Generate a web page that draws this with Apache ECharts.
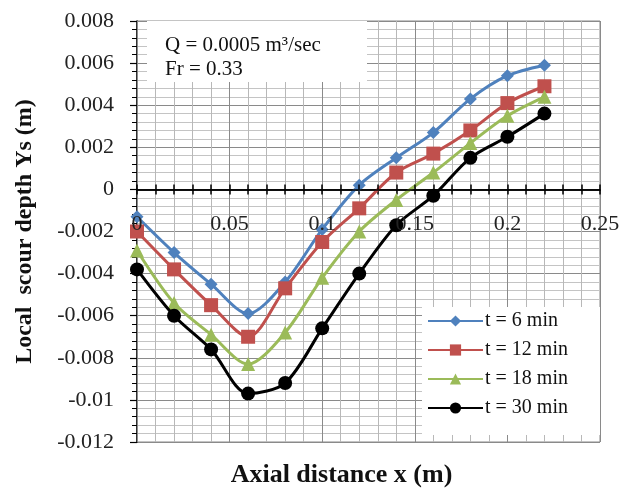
<!DOCTYPE html>
<html>
<head>
<meta charset="utf-8">
<script src="https://cdn.jsdelivr.net/npm/echarts@6/dist/echarts.min.js"></script>
<style>
html,body{margin:0;padding:0;background:#fff;}
#chart{width:633px;height:492px;}
</style>
</head>
<body>
<div id="chart"></div>
<script>
// Axial distance x (m)
const xValues = [0, 0.02, 0.04, 0.06, 0.08, 0.10, 0.12, 0.14, 0.16, 0.18, 0.20, 0.22];
// Local scour depth Ys (m)
const t6  = [-0.0013, -0.0030, -0.0045, -0.0059, -0.0044, -0.0019, 0.0002, 0.0015, 0.0027, 0.0043, 0.0054, 0.0059];
const t12 = [-0.0020, -0.0038, -0.0055, -0.0070, -0.0047, -0.0025, -0.0009, 0.0008, 0.0017, 0.0028, 0.0041, 0.0049];
const t18 = [-0.0029, -0.0054, -0.0069, -0.0083, -0.0068, -0.0042, -0.0020, -0.0005, 0.0008, 0.0022, 0.0035, 0.0044];
const t30 = [-0.0038, -0.0060, -0.0076, -0.0097, -0.0092, -0.0066, -0.0040, -0.0017, -0.0003, 0.0015, 0.0025, 0.0036];
const seriesNames = ['t = 6 min', 't = 12 min', 't = 18 min', 't = 30 min'];
const xTicks = [0, 0.05, 0.1, 0.15, 0.2, 0.25];
const yTicks = [-0.012, -0.01, -0.008, -0.006, -0.004, -0.002, 0, 0.002, 0.004, 0.006, 0.008];

const colors = ['#4F81BD', '#C0504D', '#9BBB59', '#000000'];
const symbols = ['diamond', 'rect', 'triangle', 'circle'];
const symbolSizes = [13, 14, 14, 14];
const allData = [t6, t12, t18, t30];

const serif = '"Liberation Serif", "Times New Roman", serif';

const chart = echarts.init(document.getElementById('chart'), null, {renderer: 'canvas'});

const series = allData.map((d, i) => ({
  name: seriesNames[i],
  type: 'line',
  xAxisIndex: 0,
  yAxisIndex: 0,
  data: d.map((v, j) => [xValues[j], v]),
  smooth: 0.3,
  symbol: symbols[i],
  symbolSize: symbolSizes[i],
  lineStyle: {color: colors[i], width: 3},
  itemStyle: {color: colors[i]},
  z: 5 + i
}));

const W = 633, H = 492;
const gridRect = {left: 137, right: 33, top: 21, bottom: 50, containLabel: false, outerBoundsMode: 'none'};
const yMin = yTicks[0], yMax = yTicks[yTicks.length - 1];
const gridH = H - gridRect.top - gridRect.bottom;
// shift the x axis up so that it sits on y = 0 (axis crossing like the original)
const zeroOffset = -gridH * (0 - yMin) / (yMax - yMin);

const xRange = {type: 'value', min: xTicks[0], max: xTicks[xTicks.length - 1], interval: 0.05};
const yRange = {type: 'value', min: yMin, max: yMax, interval: 0.002};
const tickLine = {color: '#000', width: 1.5};

chart.setOption({
  animation: false,
  backgroundColor: '#fff',
  grid: [
    Object.assign({show: true, borderColor: '#888', borderWidth: 1, backgroundColor: 'transparent'}, gridRect),
    Object.assign({show: false}, gridRect)
  ],
  xAxis: [
    Object.assign({}, xRange, {
      gridIndex: 0,
      position: 'bottom',
      offset: zeroOffset,
      axisLine: {onZero: false, lineStyle: tickLine},
      axisTick: {show: true, inside: false, length: 5, lineStyle: tickLine},
      minorTick: {show: true, splitNumber: 5, length: 5, lineStyle: tickLine},
      axisLabel: {show: false},
      splitLine: {show: true, lineStyle: {color: '#8a8a8a', width: 1}},
      minorSplitLine: {show: true, lineStyle: {color: '#b8b8b8', width: 1}},
      z: 4
    }),
    Object.assign({}, xRange, {
      gridIndex: 1,
      position: 'bottom',
      offset: zeroOffset,
      axisLine: {onZero: false, lineStyle: tickLine},
      axisTick: {show: true, inside: true, length: 5, lineStyle: tickLine},
      minorTick: {show: true, splitNumber: 5, length: 5, lineStyle: tickLine},
      axisLabel: {
        margin: 24, color: '#222', fontFamily: serif, fontSize: 22,
        showMinLabel: true, showMaxLabel: true, hideOverlap: false,
        formatter: v => String(parseFloat(v.toFixed(2)))
      },
      splitLine: {show: false},
      minorSplitLine: {show: false},
      name: 'Axial distance x (m)',
      nameLocation: 'middle',
      nameGap: 273,
      nameTextStyle: {fontFamily: serif, fontSize: 26, fontWeight: 'bold', color: '#111', padding: [0, 54, 0, 0]},
      z: 20
    })
  ],
  yAxis: [
    Object.assign({}, yRange, {
      gridIndex: 0,
      axisLine: {show: true, onZero: false, lineStyle: tickLine},
      axisTick: {show: true, inside: false, length: 7, lineStyle: {color: '#000', width: 1.2}},
      minorTick: {show: true, splitNumber: 5, length: 5, lineStyle: {color: '#000', width: 1}},
      axisLabel: {
        margin: 23, color: '#222', fontFamily: serif, fontSize: 22,
        showMinLabel: true, showMaxLabel: true, hideOverlap: false,
        formatter: v => String(parseFloat(v.toFixed(3)))
      },
      splitLine: {show: true, lineStyle: {color: '#8a8a8a', width: 1}},
      minorSplitLine: {show: true, lineStyle: {color: '#c4c4c4', width: 1}},
      name: 'Local  scour depth Ys (m)',
      nameLocation: 'middle',
      nameGap: 100,
      nameTextStyle: {fontFamily: serif, fontSize: 24, fontWeight: 'bold', color: '#111'}
    }),
    Object.assign({}, yRange, {
      gridIndex: 1,
      show: false
    })
  ],
  legend: {
    orient: 'vertical',
    left: 422,
    top: 307,
    data: seriesNames,
    padding: [4, 10, 20, 5],
    itemWidth: 55,
    itemHeight: 14,
    itemGap: 9,
    textStyle: {fontFamily: serif, fontSize: 20, color: '#111', lineHeight: 20, padding: [0, 0, 0, -3]},
    z: 22
  },
  graphic: [
    {
      type: 'rect',
      shape: {x: 147, y: 21, width: 220, height: 61},
      style: {fill: '#fff'},
      z: 10
    },
    {
      type: 'text',
      x: 165, y: 35,
      style: {text: 'Q = 0.0005 m³/sec', font: '21px ' + serif, fill: '#111'},
      z: 11
    },
    {
      type: 'text',
      x: 165, y: 59,
      style: {text: 'Fr = 0.33', font: '21px ' + serif, fill: '#111'},
      z: 11
    },
    {
      type: 'rect',
      shape: {x: 422, y: 307, width: 178, height: 128},
      style: {fill: '#fff'},
      z: 21
    }
  ],
  series: series
});
</script>
</body>
</html>
